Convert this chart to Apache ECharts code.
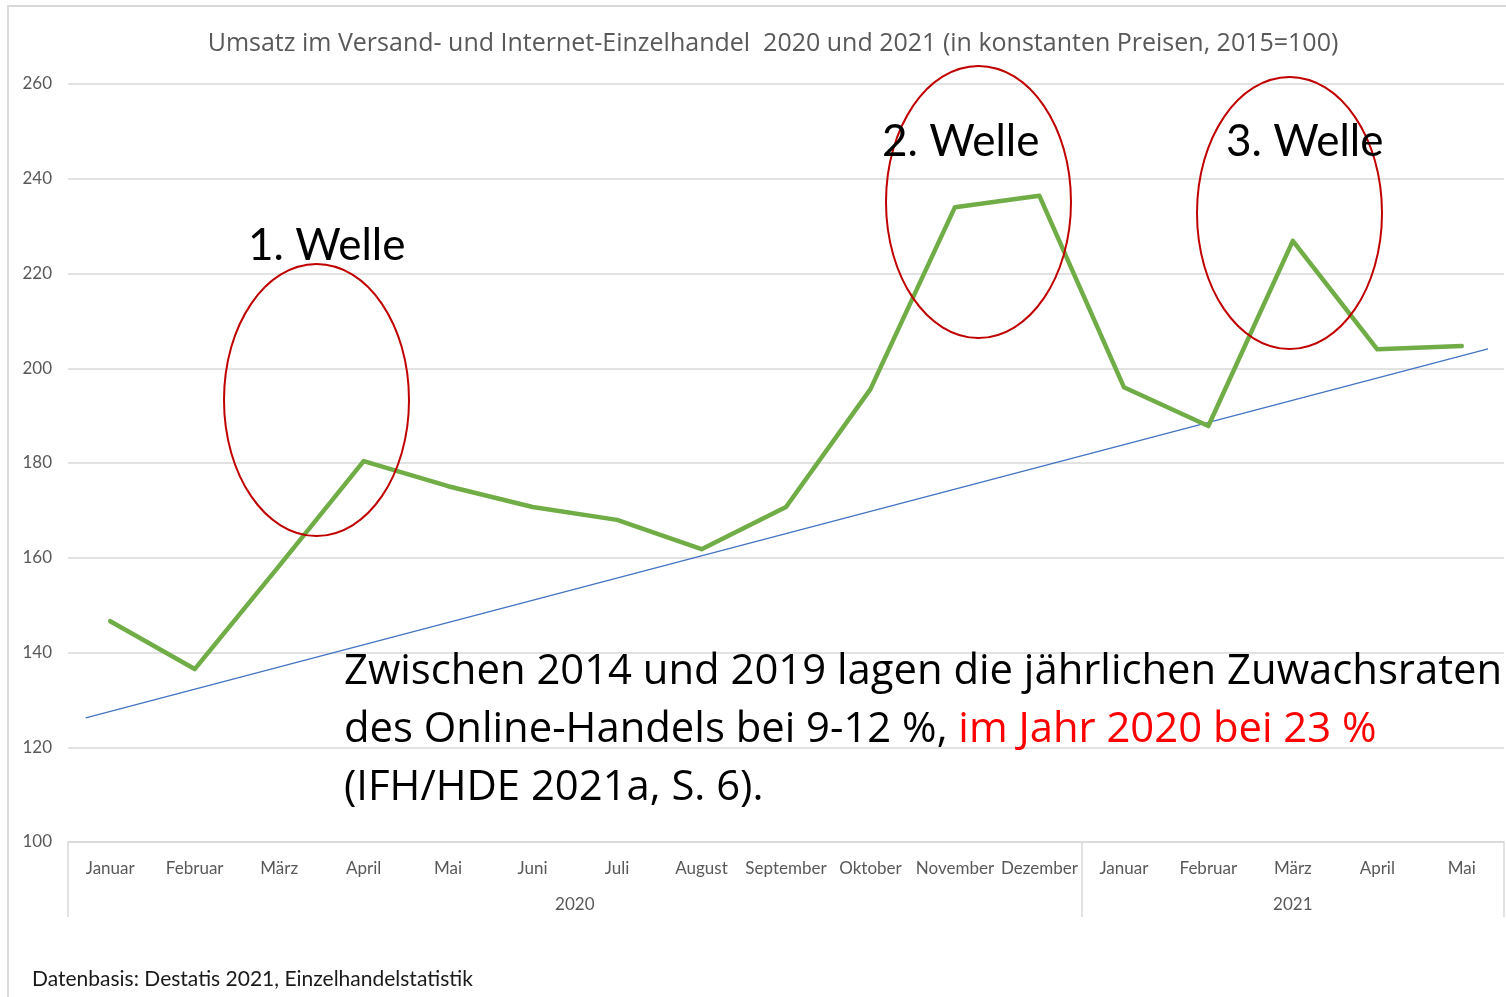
<!DOCTYPE html>
<html>
<head>
<meta charset="utf-8">
<script src="https://cdn.jsdelivr.net/npm/echarts@6/dist/echarts.min.js"></script>
<style>
  html, body { margin: 0; padding: 0; background: #fff; }
  #chart { width: 1506px; height: 997px; }
</style>
</head>
<body>
<div id="chart"></div>
<script>
const months = ["Januar", "Februar", "März", "April", "Mai", "Juni", "Juli", "August",
  "September", "Oktober", "November", "Dezember", "Januar", "Februar", "März", "April", "Mai"];
const umsatz = [146.6, 136.5, 158.3, 180.4, 175.1, 170.7, 168.0, 161.8,
  170.7, 195.6, 234.0, 236.4, 196.0, 187.8, 226.9, 204.0, 204.7];
// trend line, x in month-index units
const trend = [[-0.29, 126.2], [16.31, 204.1]];
const years = ["2020", "2021"];
const yearCenters = [5.5, 14];
const yearBreaks = [0, 12];

const FONT = "Lato, 'Open Sans', sans-serif";
const WIDE = "'Open Sans', Lato, sans-serif";
const chart = echarts.init(document.getElementById("chart"));

chart.setOption({
  animation: false,
  textStyle: { fontFamily: FONT },
  title: {
    text: "Umsatz im Versand- und Internet-Einzelhandel  2020 und 2021 (in konstanten Preisen, 2015=100)",
    left: 768, top: 26, textAlign: "center",
    textStyle: { fontSize: 25, fontWeight: "normal", color: "#595959", fontFamily: WIDE }
  },
  grid: { left: 68, right: 2, top: 84, bottom: 155 },
  xAxis: [
    {
      type: "category",
      data: months,
      boundaryGap: true,
      axisLine: { lineStyle: { color: "#d9d9d9", width: 1.5 } },
      axisTick: {
        show: true, length: 75,
        interval: (i) => yearBreaks.includes(i),
        lineStyle: { color: "#d9d9d9", width: 1.5 }
      },
      axisLabel: { interval: 0, margin: 18, fontSize: 17, color: "#595959", fontFamily: FONT }
    },
    {
      type: "value",
      position: "bottom",
      min: -0.5, max: 16.5,
      axisLine: { show: false },
      axisTick: { show: false },
      splitLine: { show: false },
      axisLabel: {
        customValues: yearCenters,
        margin: 54, fontSize: 17, color: "#595959", fontFamily: FONT,
        formatter: (v) => years[yearCenters.indexOf(v)]
      }
    }
  ],
  yAxis: {
    type: "value",
    min: 100, max: 260, interval: 20,
    axisLine: { show: false },
    axisTick: { show: false },
    axisLabel: { margin: 16, fontSize: 17, color: "#595959", fontFamily: FONT },
    splitLine: { lineStyle: { color: "#d9d9d9", width: 1.5 } }
  },
  series: [
    {
      type: "line",
      data: trend,
      xAxisIndex: 1,
      symbol: "none",
      lineStyle: { color: "#4472c4", width: 1.2 },
      z: 3
    },
    {
      type: "line",
      data: umsatz,
      symbol: "none",
      lineStyle: { color: "#70ad47", width: 4.5, cap: "round", join: "round" },
      z: 4
    }
  ],
  graphic: [
    { type: "rect", shape: { x: 8, y: 6, width: 1520, height: 1020 },
      style: { fill: null, stroke: "#d9d9d9", lineWidth: 2 }, z: 1 },
    { type: "ellipse", shape: { cx: 316.5, cy: 400, rx: 92.5, ry: 136 },
      style: { fill: null, stroke: "#c00000", lineWidth: 2 }, z: 10 },
    { type: "ellipse", shape: { cx: 978.5, cy: 202, rx: 92.5, ry: 136 },
      style: { fill: null, stroke: "#c00000", lineWidth: 2 }, z: 10 },
    { type: "ellipse", shape: { cx: 1289.5, cy: 213, rx: 92.5, ry: 136 },
      style: { fill: null, stroke: "#c00000", lineWidth: 2 }, z: 10 },
    { type: "text", x: 248, y: 246, z: 11,
      style: { text: "1. Welle", font: "44px " + FONT, fill: "#000", verticalAlign: "middle" } },
    { type: "text", x: 882, y: 142, z: 11,
      style: { text: "2. Welle", font: "44px " + FONT, fill: "#000", verticalAlign: "middle" } },
    { type: "text", x: 1226, y: 142, z: 11,
      style: { text: "3. Welle", font: "44px " + FONT, fill: "#000", verticalAlign: "middle" } },
    { type: "text", x: 344, y: 643, z: 11,
      style: {
        text: "{a|Zwischen 2014 und 2019 lagen die jährlichen Zuwachsraten}\n{a|des Online-Handels bei 9-12 %, }{r|im Jahr 2020 bei 23 %}\n{a|(IFH/HDE 2021a, S. 6).}",
        verticalAlign: "top",
        rich: {
          a: { fontSize: 41.8, lineHeight: 58, fill: "#000", fontFamily: WIDE },
          r: { fontSize: 41.8, lineHeight: 58, fill: "#ff0000", fontFamily: WIDE }
        }
      } },
    { type: "text", x: 32, y: 979, z: 11,
      style: { text: "Datenbasis: Destatis 2021, Einzelhandelstatistik", font: "21px " + FONT,
        fill: "#1a1a1a", verticalAlign: "middle" } }
  ]
});
</script>
</body>
</html>
